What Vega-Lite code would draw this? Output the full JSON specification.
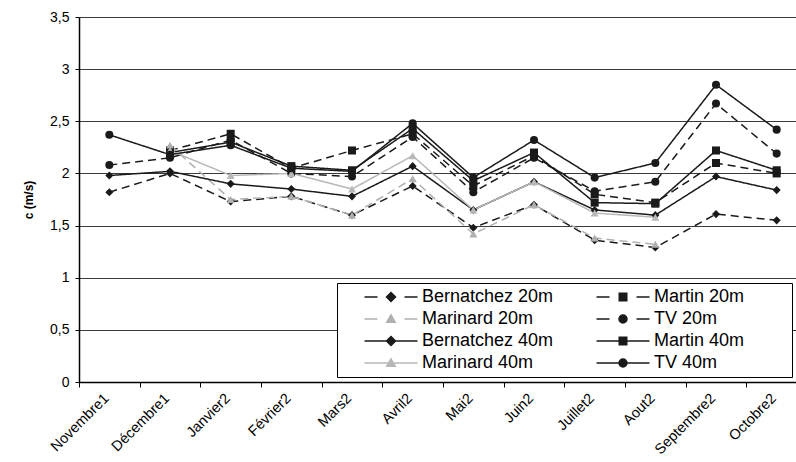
{
  "$schema": "https://vega.github.io/schema/vega-lite/v6.json",
  "autosize": "none",
  "padding": {"left": 79, "top": 17, "right": 0, "bottom": 80},
  "width": 717,
  "height": 365,
  "background": "white",
  "config": {
    "view": {"stroke": null},
    "font": "Liberation Sans",
    "axis": {"labelFont": "Liberation Sans", "titleFont": "Liberation Sans", "labelColor": "black", "titleColor": "black"}
  },
  "data": {
    "values": [
      {"mois": "Novembre1", "serie": "Bernatchez 20m", "station": "Bernatchez", "prof": "20m", "c": 1.82},
      {"mois": "Décembre1", "serie": "Bernatchez 20m", "station": "Bernatchez", "prof": "20m", "c": 2.0},
      {"mois": "Janvier2", "serie": "Bernatchez 20m", "station": "Bernatchez", "prof": "20m", "c": 1.73},
      {"mois": "Février2", "serie": "Bernatchez 20m", "station": "Bernatchez", "prof": "20m", "c": 1.78},
      {"mois": "Mars2", "serie": "Bernatchez 20m", "station": "Bernatchez", "prof": "20m", "c": 1.6},
      {"mois": "Avril2", "serie": "Bernatchez 20m", "station": "Bernatchez", "prof": "20m", "c": 1.88},
      {"mois": "Mai2", "serie": "Bernatchez 20m", "station": "Bernatchez", "prof": "20m", "c": 1.48},
      {"mois": "Juin2", "serie": "Bernatchez 20m", "station": "Bernatchez", "prof": "20m", "c": 1.7},
      {"mois": "Juillet2", "serie": "Bernatchez 20m", "station": "Bernatchez", "prof": "20m", "c": 1.36},
      {"mois": "Aout2", "serie": "Bernatchez 20m", "station": "Bernatchez", "prof": "20m", "c": 1.29},
      {"mois": "Septembre2", "serie": "Bernatchez 20m", "station": "Bernatchez", "prof": "20m", "c": 1.61},
      {"mois": "Octobre2", "serie": "Bernatchez 20m", "station": "Bernatchez", "prof": "20m", "c": 1.55},

      {"mois": "Décembre1", "serie": "Martin 20m", "station": "Martin", "prof": "20m", "c": 2.22},
      {"mois": "Janvier2", "serie": "Martin 20m", "station": "Martin", "prof": "20m", "c": 2.38},
      {"mois": "Février2", "serie": "Martin 20m", "station": "Martin", "prof": "20m", "c": 2.05},
      {"mois": "Mars2", "serie": "Martin 20m", "station": "Martin", "prof": "20m", "c": 2.22},
      {"mois": "Avril2", "serie": "Martin 20m", "station": "Martin", "prof": "20m", "c": 2.38},
      {"mois": "Mai2", "serie": "Martin 20m", "station": "Martin", "prof": "20m", "c": 1.88},
      {"mois": "Juin2", "serie": "Martin 20m", "station": "Martin", "prof": "20m", "c": 2.17},
      {"mois": "Juillet2", "serie": "Martin 20m", "station": "Martin", "prof": "20m", "c": 1.8},
      {"mois": "Aout2", "serie": "Martin 20m", "station": "Martin", "prof": "20m", "c": 1.72},
      {"mois": "Septembre2", "serie": "Martin 20m", "station": "Martin", "prof": "20m", "c": 2.1},
      {"mois": "Octobre2", "serie": "Martin 20m", "station": "Martin", "prof": "20m", "c": 2.0},

      {"mois": "Décembre1", "serie": "Marinard 20m", "station": "Marinard", "prof": "20m", "c": 2.27},
      {"mois": "Janvier2", "serie": "Marinard 20m", "station": "Marinard", "prof": "20m", "c": 1.75},
      {"mois": "Février2", "serie": "Marinard 20m", "station": "Marinard", "prof": "20m", "c": 1.78},
      {"mois": "Mars2", "serie": "Marinard 20m", "station": "Marinard", "prof": "20m", "c": 1.6},
      {"mois": "Avril2", "serie": "Marinard 20m", "station": "Marinard", "prof": "20m", "c": 1.95},
      {"mois": "Mai2", "serie": "Marinard 20m", "station": "Marinard", "prof": "20m", "c": 1.42},
      {"mois": "Juin2", "serie": "Marinard 20m", "station": "Marinard", "prof": "20m", "c": 1.7},
      {"mois": "Juillet2", "serie": "Marinard 20m", "station": "Marinard", "prof": "20m", "c": 1.38},
      {"mois": "Aout2", "serie": "Marinard 20m", "station": "Marinard", "prof": "20m", "c": 1.32},

      {"mois": "Novembre1", "serie": "TV 20m", "station": "TV", "prof": "20m", "c": 2.08},
      {"mois": "Décembre1", "serie": "TV 20m", "station": "TV", "prof": "20m", "c": 2.15},
      {"mois": "Janvier2", "serie": "TV 20m", "station": "TV", "prof": "20m", "c": 2.32},
      {"mois": "Février2", "serie": "TV 20m", "station": "TV", "prof": "20m", "c": 2.0},
      {"mois": "Mars2", "serie": "TV 20m", "station": "TV", "prof": "20m", "c": 1.97},
      {"mois": "Avril2", "serie": "TV 20m", "station": "TV", "prof": "20m", "c": 2.35},
      {"mois": "Mai2", "serie": "TV 20m", "station": "TV", "prof": "20m", "c": 1.82},
      {"mois": "Juin2", "serie": "TV 20m", "station": "TV", "prof": "20m", "c": 2.15},
      {"mois": "Juillet2", "serie": "TV 20m", "station": "TV", "prof": "20m", "c": 1.83},
      {"mois": "Aout2", "serie": "TV 20m", "station": "TV", "prof": "20m", "c": 1.92},
      {"mois": "Septembre2", "serie": "TV 20m", "station": "TV", "prof": "20m", "c": 2.67},
      {"mois": "Octobre2", "serie": "TV 20m", "station": "TV", "prof": "20m", "c": 2.19},

      {"mois": "Novembre1", "serie": "Bernatchez 40m", "station": "Bernatchez", "prof": "40m", "c": 1.98},
      {"mois": "Décembre1", "serie": "Bernatchez 40m", "station": "Bernatchez", "prof": "40m", "c": 2.02},
      {"mois": "Janvier2", "serie": "Bernatchez 40m", "station": "Bernatchez", "prof": "40m", "c": 1.9},
      {"mois": "Février2", "serie": "Bernatchez 40m", "station": "Bernatchez", "prof": "40m", "c": 1.85},
      {"mois": "Mars2", "serie": "Bernatchez 40m", "station": "Bernatchez", "prof": "40m", "c": 1.78},
      {"mois": "Avril2", "serie": "Bernatchez 40m", "station": "Bernatchez", "prof": "40m", "c": 2.07},
      {"mois": "Mai2", "serie": "Bernatchez 40m", "station": "Bernatchez", "prof": "40m", "c": 1.65},
      {"mois": "Juin2", "serie": "Bernatchez 40m", "station": "Bernatchez", "prof": "40m", "c": 1.92},
      {"mois": "Juillet2", "serie": "Bernatchez 40m", "station": "Bernatchez", "prof": "40m", "c": 1.65},
      {"mois": "Aout2", "serie": "Bernatchez 40m", "station": "Bernatchez", "prof": "40m", "c": 1.6},
      {"mois": "Septembre2", "serie": "Bernatchez 40m", "station": "Bernatchez", "prof": "40m", "c": 1.97},
      {"mois": "Octobre2", "serie": "Bernatchez 40m", "station": "Bernatchez", "prof": "40m", "c": 1.84},

      {"mois": "Décembre1", "serie": "Martin 40m", "station": "Martin", "prof": "40m", "c": 2.2},
      {"mois": "Janvier2", "serie": "Martin 40m", "station": "Martin", "prof": "40m", "c": 2.3},
      {"mois": "Février2", "serie": "Martin 40m", "station": "Martin", "prof": "40m", "c": 2.07},
      {"mois": "Mars2", "serie": "Martin 40m", "station": "Martin", "prof": "40m", "c": 2.03},
      {"mois": "Avril2", "serie": "Martin 40m", "station": "Martin", "prof": "40m", "c": 2.43},
      {"mois": "Mai2", "serie": "Martin 40m", "station": "Martin", "prof": "40m", "c": 1.93},
      {"mois": "Juin2", "serie": "Martin 40m", "station": "Martin", "prof": "40m", "c": 2.2},
      {"mois": "Juillet2", "serie": "Martin 40m", "station": "Martin", "prof": "40m", "c": 1.72},
      {"mois": "Aout2", "serie": "Martin 40m", "station": "Martin", "prof": "40m", "c": 1.71},
      {"mois": "Septembre2", "serie": "Martin 40m", "station": "Martin", "prof": "40m", "c": 2.22},
      {"mois": "Octobre2", "serie": "Martin 40m", "station": "Martin", "prof": "40m", "c": 2.03},

      {"mois": "Décembre1", "serie": "Marinard 40m", "station": "Marinard", "prof": "40m", "c": 2.22},
      {"mois": "Janvier2", "serie": "Marinard 40m", "station": "Marinard", "prof": "40m", "c": 1.98},
      {"mois": "Février2", "serie": "Marinard 40m", "station": "Marinard", "prof": "40m", "c": 2.0},
      {"mois": "Mars2", "serie": "Marinard 40m", "station": "Marinard", "prof": "40m", "c": 1.85},
      {"mois": "Avril2", "serie": "Marinard 40m", "station": "Marinard", "prof": "40m", "c": 2.17},
      {"mois": "Mai2", "serie": "Marinard 40m", "station": "Marinard", "prof": "40m", "c": 1.65},
      {"mois": "Juin2", "serie": "Marinard 40m", "station": "Marinard", "prof": "40m", "c": 1.92},
      {"mois": "Juillet2", "serie": "Marinard 40m", "station": "Marinard", "prof": "40m", "c": 1.62},
      {"mois": "Aout2", "serie": "Marinard 40m", "station": "Marinard", "prof": "40m", "c": 1.58},

      {"mois": "Novembre1", "serie": "TV 40m", "station": "TV", "prof": "40m", "c": 2.37},
      {"mois": "Décembre1", "serie": "TV 40m", "station": "TV", "prof": "40m", "c": 2.18},
      {"mois": "Janvier2", "serie": "TV 40m", "station": "TV", "prof": "40m", "c": 2.27},
      {"mois": "Février2", "serie": "TV 40m", "station": "TV", "prof": "40m", "c": 2.05},
      {"mois": "Mars2", "serie": "TV 40m", "station": "TV", "prof": "40m", "c": 2.02},
      {"mois": "Avril2", "serie": "TV 40m", "station": "TV", "prof": "40m", "c": 2.48},
      {"mois": "Mai2", "serie": "TV 40m", "station": "TV", "prof": "40m", "c": 1.96},
      {"mois": "Juin2", "serie": "TV 40m", "station": "TV", "prof": "40m", "c": 2.32},
      {"mois": "Juillet2", "serie": "TV 40m", "station": "TV", "prof": "40m", "c": 1.96},
      {"mois": "Aout2", "serie": "TV 40m", "station": "TV", "prof": "40m", "c": 2.1},
      {"mois": "Septembre2", "serie": "TV 40m", "station": "TV", "prof": "40m", "c": 2.85},
      {"mois": "Octobre2", "serie": "TV 40m", "station": "TV", "prof": "40m", "c": 2.42}
    ]
  },
  "encoding": {
    "x": {
      "field": "mois",
      "type": "ordinal",
      "bandPosition": 0.5,
      "sort": ["Novembre1", "Décembre1", "Janvier2", "Février2", "Mars2", "Avril2", "Mai2", "Juin2", "Juillet2", "Aout2", "Septembre2", "Octobre2"],
      "scale": {"type": "band", "range": [0, 728], "paddingInner": 0, "paddingOuter": 0},
      "axis": {
        "title": null,
        "labelAngle": -45,
        "labelFontSize": 14.5,
        "labelPadding": 4,
        "labelOffset": -8,
        "tickBand": "extent",
        "tickSize": 5,
        "tickColor": "black",
        "domainColor": "black",
        "domainWidth": 1.5,
        "grid": false
      }
    },
    "y": {
      "field": "c",
      "type": "quantitative",
      "scale": {"domain": [0, 3.5], "nice": false, "zero": true},
      "axis": {
        "title": "c (m/s)",
        "titleFontSize": 12,
        "titleFontWeight": "bold",
        "titlePadding": 14,
        "values": [0, 0.5, 1, 1.5, 2, 2.5, 3, 3.5],
        "labelExpr": "replace(format(datum.value, '.1~f'), '.', ',')",
        "labelFontSize": 14,
        "labelPadding": 6,
        "tickSize": 4,
        "tickColor": "black",
        "domainColor": "black",
        "domainWidth": 1.5,
        "grid": true,
        "gridColor": "#3a3a3a",
        "gridWidth": 1
      }
    },
    "color": {
      "field": "serie",
      "type": "nominal",
      "scale": {
        "domain": ["Bernatchez 20m", "Martin 20m", "Marinard 20m", "TV 20m", "Bernatchez 40m", "Martin 40m", "Marinard 40m", "TV 40m"],
        "range": ["#1a1a1a", "#1a1a1a", "#b0b0b0", "#1a1a1a", "#1a1a1a", "#1a1a1a", "#b8b8b8", "#1a1a1a"]
      },
      "legend": {
        "title": null,
        "orient": "none",
        "direction": "horizontal",
        "legendX": 258,
        "legendY": 266,
        "columns": 2,
        "gridAlign": "each",
        "strokeColor": "black",
        "fillColor": "white",
        "padding": 5,
        "labelFont": "Liberation Sans",
        "labelFontSize": 18,
        "labelColor": "black",
        "labelLimit": 300,
        "symbolSize": 100,
        "symbolOffset": 40,
        "labelOffset": 22,
        "symbolStrokeWidth": 1.5,
        "rowPadding": 4,
        "columnPadding": 20,
        "encode": {
          "symbols": {
            "update": {
              "shape": {"signal": "(indexof(datum.value,'20m')>=0 ? 'M-5.3,0H-2.7M2.7,0H5.3' : 'M-5.3,0H5.3') + (indexof(datum.value,'Bernatchez')==0 ? 'M0,-0.9L0.9,0L0,0.9L-0.9,0Z' : indexof(datum.value,'Martin')==0 ? 'M-0.75,-0.75H0.75V0.75H-0.75ZM32,0H32.0005' : indexof(datum.value,'Marinard')==0 ? 'M0,-0.85L0.85,0.65H-0.85Z' : 'M-0.8,0A0.8,0.8,0,1,1,0.8,0A0.8,0.8,0,1,1,-0.8,0ZM32,0H32.0005')"},
              "fill": {"scale": "color", "field": "value"},
              "stroke": {"scale": "color", "field": "value"},
              "strokeWidth": {"value": 1.5},
              "opacity": {"value": 1}
            }
          }
        }
      }
    }
  },
  "layer": [
    {
      "mark": {"type": "line", "strokeWidth": 1.5},
      "encoding": {
        "strokeDash": {
          "field": "prof",
          "type": "nominal",
          "scale": {"domain": ["20m", "40m"], "range": [[8, 5], [1, 0]]},
          "legend": null
        }
      }
    },
    {
      "mark": {"type": "point", "filled": true, "opacity": 1, "size": 65},
      "encoding": {
        "shape": {
          "field": "station",
          "type": "nominal",
          "scale": {"domain": ["Bernatchez", "Martin", "Marinard", "TV"], "range": ["diamond", "square", "triangle-up", "circle"]},
          "legend": null
        }
      }
    }
  ]
}
